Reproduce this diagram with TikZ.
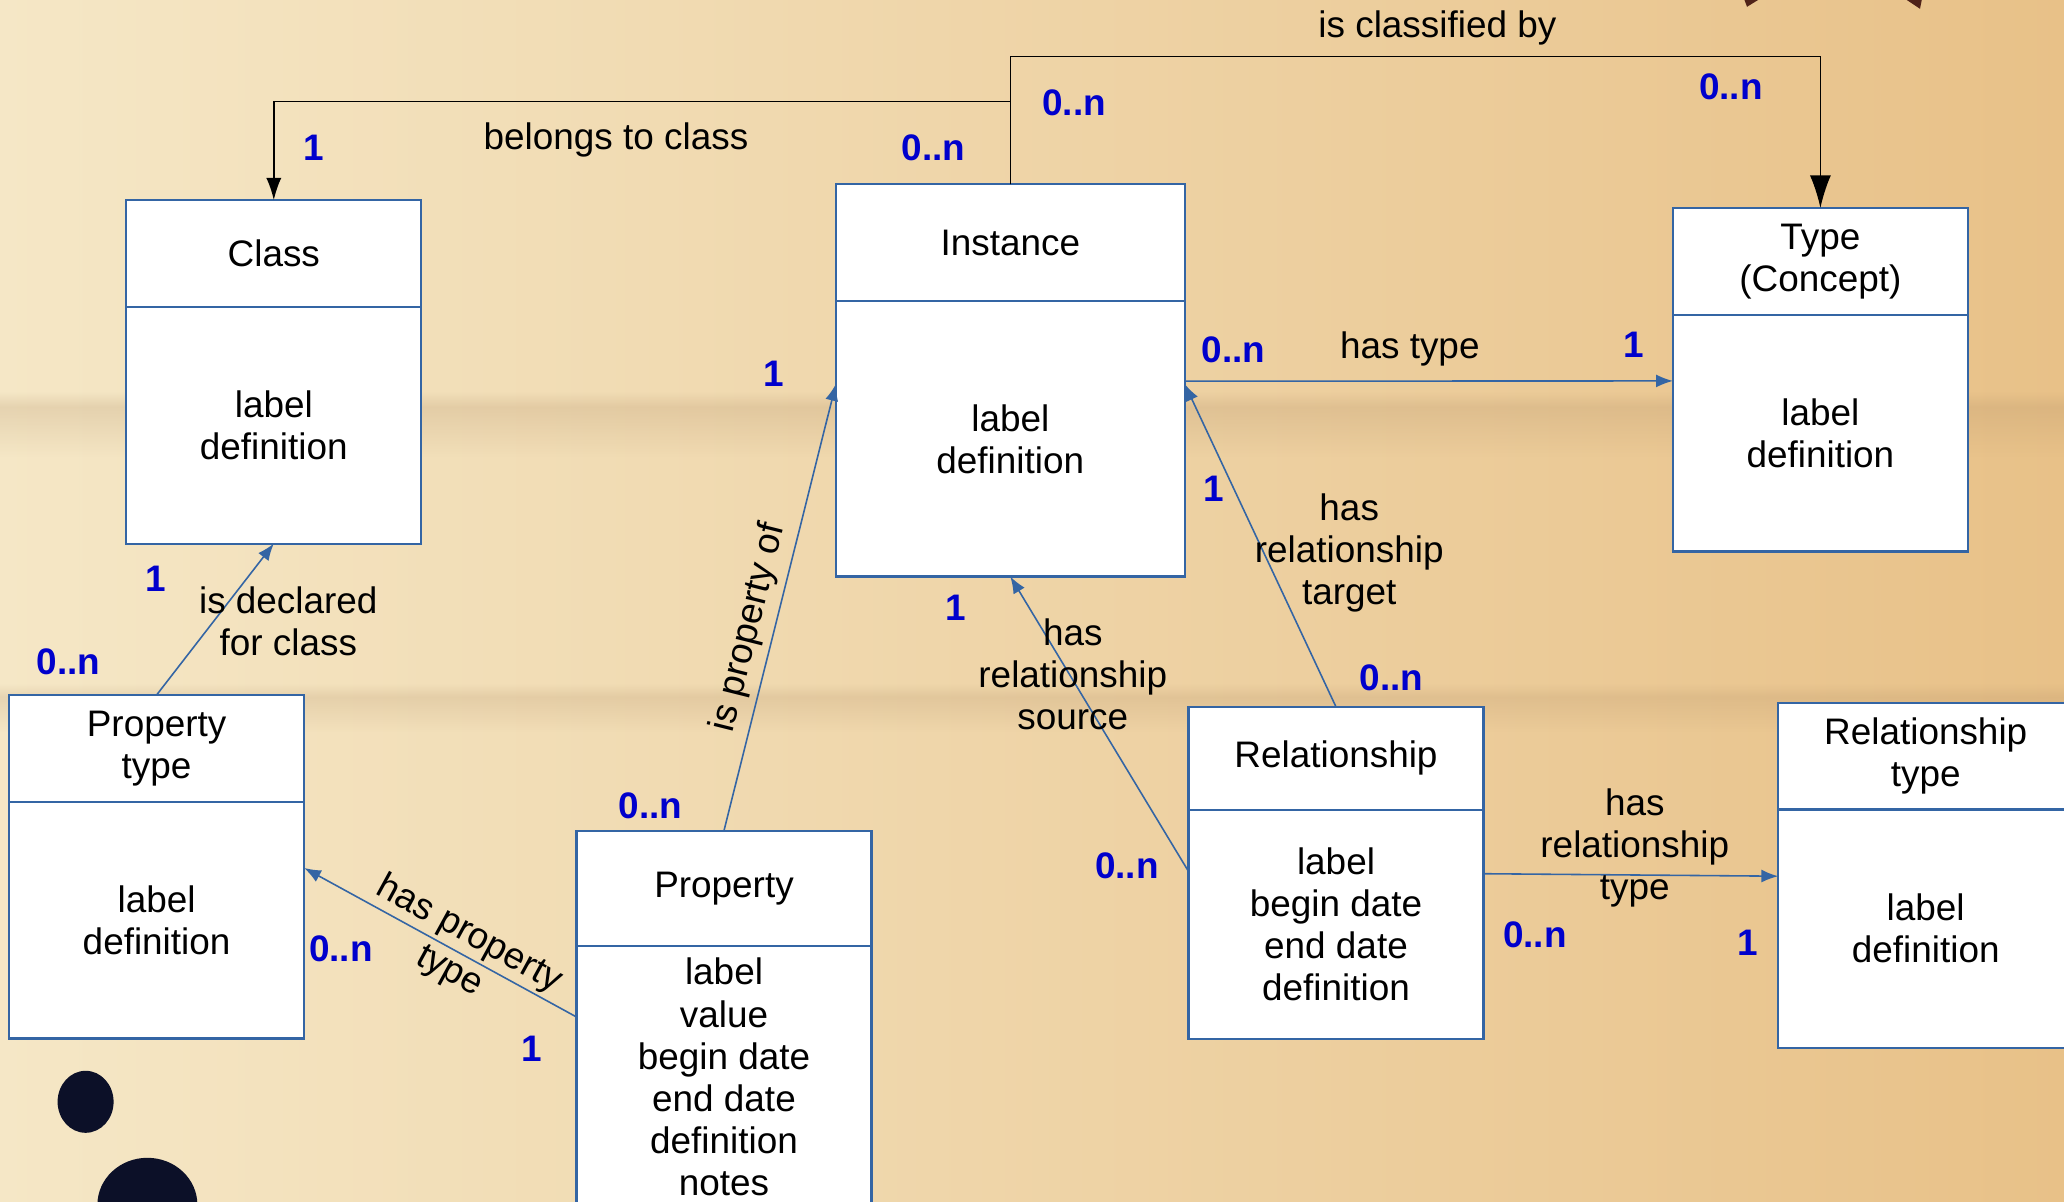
\documentclass[tikz,border=0pt]{standalone}
\usepackage{fontspec}
\setmainfont{Liberation Sans}
\usetikzlibrary{positioning,calc,arrows.meta,fadings}
\definecolor{umlblue}{RGB}{52,101,164}
\definecolor{multblue}{RGB}{0,0,204}
\definecolor{paperlight}{RGB}{245,231,198}
\definecolor{papertan}{RGB}{232,193,136}
\definecolor{foldbrown}{RGB}{175,140,100}
\definecolor{inkblot}{RGB}{12,16,40}
\definecolor{rustspot}{RGB}{80,35,25}
\tikzset{
    % UML box parts
    titlebox/.style={
        rectangle, draw=umlblue, line width=0.6pt, fill=white,
        minimum width=2.95cm, outer sep=0pt, align=center,
        font=\fontsize{10.5}{12}\selectfont
    },
    bodybox/.style={titlebox},
    % connectors
    assoc/.style={
        -{Latex[length=4.8pt,width=3.7pt]}, line width=0.45pt, color=umlblue
    },
    classify/.style={
        line width=0.45pt, color=black
    },
    % labels
    mult/.style={
        text=multblue, font=\fontsize{10.5}{12}\selectfont\bfseries
    },
    rolelabel/.style={
        align=center, text=black, font=\fontsize{10.5}{12}\selectfont
    }
}
\begin{document}
\begin{tikzpicture}

\useasboundingbox (0,0) rectangle (20.64,12.018);
\clip (0,0) rectangle (20.64,12.018);

% Paper background
\shade[left color=paperlight, right color=papertan] (0,0) rectangle (20.64,12.018);
\fill[foldbrown, fill opacity=0.22, path fading=north] (0,7.95) rectangle (20.64,8.10);
\fill[foldbrown, fill opacity=0.22, path fading=south] (0,7.45) rectangle (20.64,7.95);
\fill[foldbrown, fill opacity=0.20, path fading=north] (0,5.05) rectangle (20.64,5.18);
\fill[foldbrown, fill opacity=0.20, path fading=south] (0,4.70) rectangle (20.64,5.05);
\fill[inkblot] (0.856,1.00) ellipse (0.28 and 0.31);
\fill[inkblot] (1.474,-0.03) ellipse (0.50 and 0.47);
\fill[rustspot] (17.44,12.03) -- (17.60,12.03) -- (17.47,11.95) -- cycle;
\fill[rustspot] (19.05,12.03) -- (19.22,12.03) -- (19.20,11.93) -- cycle;

% Classes
\node[titlebox, minimum height=1.066cm, anchor=north] (class) at (2.738,10.017) {Class};
\node[bodybox, minimum height=2.369cm, below=0pt of class] (class_body) {label\\definition};

\node[titlebox, minimum width=3.488cm, minimum height=1.171cm, anchor=north] (instance) at (10.103,10.175) {Instance};
\node[bodybox, minimum width=3.488cm, minimum height=2.751cm, below=0pt of instance] (instance_body) {label\\definition};

\node[titlebox, minimum height=1.066cm, anchor=north] (type) at (18.204,9.938) {Type\\(Concept)};
\node[bodybox, minimum height=2.369cm, below=0pt of type] (type_body) {label\\definition};

\node[titlebox, minimum height=1.066cm, anchor=north] (ptype) at (1.566,5.068) {Property\\type};
\node[bodybox, minimum height=2.369cm, below=0pt of ptype] (ptype_body) {label\\definition};

\node[titlebox, minimum height=1.158cm, anchor=north] (prop) at (7.240,3.712) {Property};
\node[bodybox, minimum height=2.606cm, below=0pt of prop] (prop_body) {label\\value\\begin date\\end date\\definition\\notes};

\node[titlebox, minimum height=1.027cm, anchor=north] (rel) at (13.360,4.949) {Relationship};
\node[bodybox, minimum height=2.290cm, below=0pt of rel] (rel_body) {label\\begin date\\end date\\definition};

\node[titlebox, minimum height=1.066cm, anchor=north] (reltype) at (19.257,4.989) {Relationship\\type};
\node[bodybox, minimum height=2.382cm, below=0pt of reltype] (reltype_body) {label\\definition};

% Classification links
\coordinate (belongs_bend) at (10.103,11.004);
\coordinate (classify_bend) at (10.103,11.452);
\draw[classify, -{Latex[length=6.3pt,width=4.3pt]}] (instance.north) -- (belongs_bend) -| (class.north);
\draw[classify, -{Latex[length=9.3pt,width=6pt]}] (instance.north) -- (classify_bend) -| (type.north);

% Associations
\draw[assoc] ($(instance_body.north east)!0.29!(instance_body.south east)$) -- ($(type_body.north west)!0.28!(type_body.south west)$);
\draw[assoc] (rel.north) -- ($(instance_body.north east)!0.30!(instance_body.south east)$);
\draw[assoc] ($(rel_body.north west)!0.27!(rel_body.south west)$) -- (instance_body.south);
\draw[assoc] ($(rel_body.north east)!0.28!(rel_body.south east)$) -- ($(reltype_body.north west)!0.28!(reltype_body.south west)$);
\draw[assoc] (prop.north) -- node[rolelabel, pos=0.44, sloped, above, inner sep=2pt] (lbl_propof) {is property of} ($(instance_body.north west)!0.30!(instance_body.south west)$);
\draw[assoc] ($(prop_body.north west)!0.27!(prop_body.south west)$) -- node[rolelabel, pos=0.43, sloped] (lbl_proptype) {has property\\type} ($(ptype_body.north east)!0.28!(ptype_body.south east)$);
\draw[assoc] (ptype.north) -- (class_body.south);

% Role names
\node[rolelabel] (lbl_belongs) at (6.160,10.623) {belongs to class};
\node[rolelabel] (lbl_classified) at (14.374,11.741) {is classified by};
\node[rolelabel] (lbl_hastype) at (14.098,8.530) {has type};
\node[rolelabel] (lbl_target) at (13.492,6.489) {has\\relationship\\target};
\node[rolelabel] (lbl_source) at (10.728,5.278) {has\\relationship\\source};
\node[rolelabel] (lbl_reltype) at (16.348,3.541) {has\\relationship\\type};
\node[rolelabel] (lbl_declared) at (2.883,5.805) {is declared\\for class};

% Multiplicities
\node[mult] (m_belongs_class) at (3.133,10.544) {1};
\node[mult] (m_belongs_inst) at (9.333,10.544) {0..n};
\node[mult] (m_classified_inst) at (10.741,10.991) {0..n};
\node[mult] (m_classified_type) at (17.309,11.149) {0..n};
\node[mult] (m_hastype_inst) at (12.334,8.516) {0..n};
\node[mult] (m_hastype_type) at (16.335,8.569) {1};
\node[mult] (m_target_inst) at (12.136,7.134) {1};
\node[mult] (m_target_rel) at (13.913,5.239) {0..n};
\node[mult] (m_source_inst) at (9.556,5.937) {1};
\node[mult] (m_source_rel) at (11.268,3.357) {0..n};
\node[mult] (m_reltype_rel) at (15.348,2.672) {0..n};
\node[mult] (m_reltype_type) at (17.480,2.593) {1};
\node[mult] (m_propof_inst) at (7.740,8.280) {1};
\node[mult] (m_propof_prop) at (6.503,3.962) {0..n};
\node[mult] (m_proptype_ptype) at (3.409,2.527) {0..n};
\node[mult] (m_proptype_prop) at (5.318,1.527) {1};
\node[mult] (m_declared_class) at (1.553,6.226) {1};
\node[mult] (m_declared_ptype) at (0.684,5.397) {0..n};

\end{tikzpicture}
\end{document}
